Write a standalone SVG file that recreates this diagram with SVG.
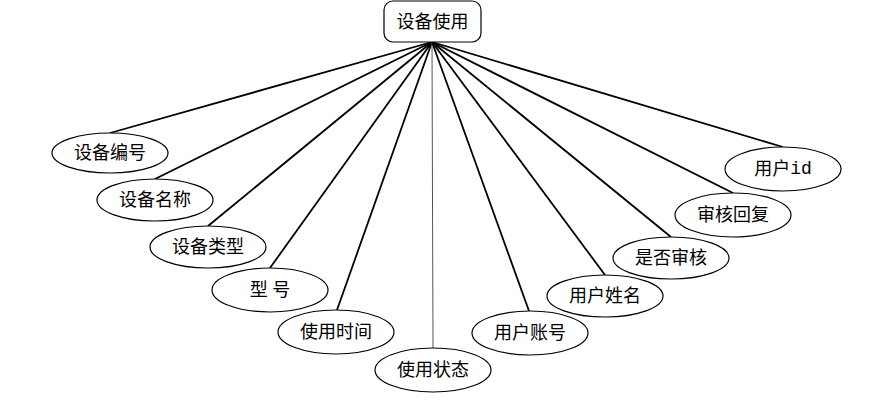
<svg xmlns="http://www.w3.org/2000/svg" width="874" height="403" viewBox="0 0 874 403">
<style>
text{font-family:"Liberation Serif","Noto Sans CJK SC",serif;font-size:18px;fill:#000;text-anchor:middle;dominant-baseline:central}
.mono{font-family:"Liberation Mono","Noto Sans CJK SC",monospace}
.attr ellipse{fill:#fff;stroke:#000;stroke-width:1.2}
#connectors line{stroke:#000;stroke-width:1.8}
</style>
<rect width="874" height="403" fill="#fff"/>
<g id="connectors">
<line x1="432" y1="42" x2="110" y2="133"/>
<line x1="432" y1="42" x2="155" y2="179"/>
<line x1="432" y1="42" x2="208" y2="226"/>
<line x1="432" y1="42" x2="270" y2="268"/>
<line x1="432" y1="42" x2="337" y2="310"/>
<line x1="432" y1="42" x2="433" y2="348" style="stroke:#555;stroke-width:1"/>
<line x1="432" y1="42" x2="529" y2="311"/>
<line x1="432" y1="42" x2="605" y2="275"/>
<line x1="432" y1="42" x2="671" y2="237"/>
<line x1="432" y1="42" x2="733" y2="193"/>
<line x1="432" y1="42" x2="783" y2="147"/>
</g>
<g id="root">
<rect x="384" y="1" width="97" height="41" rx="9" fill="#fff" stroke="#000" stroke-width="1.2"/>
<text x="432.5" y="21.5">设备使用</text>
</g>
<g id="n1" class="attr"><ellipse cx="110" cy="153" rx="58" ry="20"/><text x="110" y="153">设备编号</text></g>
<g id="n2" class="attr"><ellipse cx="155" cy="200" rx="58" ry="21"/><text x="155" y="200">设备名称</text></g>
<g id="n3" class="attr"><ellipse cx="208" cy="247" rx="58" ry="21"/><text x="208" y="247">设备类型</text></g>
<g id="n4" class="attr"><ellipse cx="270" cy="290" rx="58" ry="22"/><text x="270" y="290">型 号</text></g>
<g id="n5" class="attr"><ellipse cx="336" cy="332" rx="58" ry="22"/><text x="336" y="332">使用时间</text></g>
<g id="n6" class="attr"><ellipse cx="433" cy="370" rx="58" ry="22"/><text x="433" y="370">使用状态</text></g>
<g id="n7" class="attr"><ellipse cx="530" cy="333" rx="58" ry="22"/><text x="530" y="333">用户账号</text></g>
<g id="n8" class="attr"><ellipse cx="605" cy="296" rx="58" ry="21"/><text x="605" y="296">用户姓名</text></g>
<g id="n9" class="attr"><ellipse cx="671" cy="258" rx="58" ry="21"/><text x="671" y="258">是否审核</text></g>
<g id="n10" class="attr"><ellipse cx="733" cy="215" rx="58" ry="22"/><text x="733" y="215">审核回复</text></g>
<g id="n11" class="attr"><ellipse cx="783" cy="169" rx="58" ry="22"/><text x="783" y="169">用户<tspan class="mono">id</tspan></text></g>
</svg>
